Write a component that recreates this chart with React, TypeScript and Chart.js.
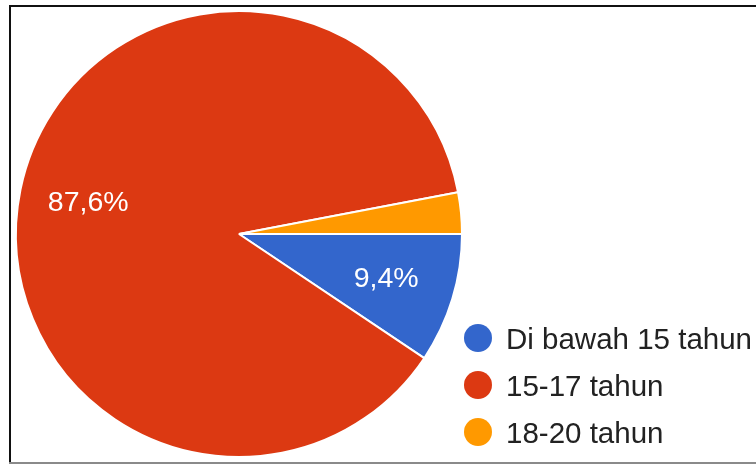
import React, { useEffect, useRef } from "react";
import { Chart, registerables } from "chart.js";

Chart.register(...registerables);

const categories = ["Di bawah 15 tahun", "15-17 tahun", "18-20 tahun"];
const values = [9.4, 87.6, 3.0];
const sliceLabels = ["9,4%", "87,6%", ""];
const colors = ["#3366cc", "#dc3912", "#ff9900"];

const FONT = "'Liberation Sans', Arial, sans-serif";

const framePlugin = {
  id: "frame",
  beforeDraw(chart: any) {
    const ctx = chart.ctx;
    ctx.save();
    ctx.fillStyle = "#ffffff";
    ctx.fillRect(0, 0, chart.width, chart.height);
    ctx.fillStyle = "#111111";
    ctx.fillRect(9, 5, chart.width - 9, 2);
    ctx.fillRect(9, 5, 2, 458);
    ctx.fillStyle = "#8a8a8a";
    ctx.fillRect(9, 462, chart.width - 9, 2);
    ctx.restore();
  },
};

const labelPlugin = {
  id: "sliceLabels",
  afterDatasetsDraw(chart: any) {
    const ctx = chart.ctx;
    const meta = chart.getDatasetMeta(0);
    ctx.save();
    ctx.fillStyle = "#ffffff";
    ctx.font = `28.5px ${FONT}`;
    ctx.textAlign = "center";
    ctx.textBaseline = "middle";
    meta.data.forEach((arc: any, i: number) => {
      const text = sliceLabels[i];
      if (!text) return;
      const p = arc.getProps(["x", "y", "startAngle", "endAngle", "outerRadius"], true);
      const mid = (p.startAngle + p.endAngle) / 2;
      const r = p.outerRadius * 0.69;
      ctx.fillText(text, p.x + Math.cos(mid) * r, p.y + Math.sin(mid) * r);
    });
    ctx.restore();
  },
};

const legendPlugin = {
  id: "customLegend",
  afterDraw(chart: any) {
    const ctx = chart.ctx;
    ctx.save();
    const baseY = 349;
    const step = 47;
    categories.forEach((c, i) => {
      const by = baseY + i * step;
      ctx.fillStyle = colors[i];
      ctx.beginPath();
      ctx.arc(478, by - 11, 14, 0, Math.PI * 2);
      ctx.fill();
      ctx.fillStyle = "#222222";
      ctx.font = `29.5px ${FONT}`;
      ctx.textAlign = "left";
      ctx.textBaseline = "alphabetic";
      ctx.fillText(c, 506, by);
    });
    ctx.restore();
  },
};

export default function App() {
  const ref = useRef<HTMLCanvasElement | null>(null);
  useEffect(() => {
    if (!ref.current) return;
    const chart = new Chart(ref.current, {
      type: "pie",
      data: {
        labels: categories,
        datasets: [
          {
            data: values,
            backgroundColor: colors,
            borderColor: "#ffffff",
            borderWidth: 2,
          },
        ],
      },
      options: {
        responsive: false,
        animation: false,
        rotation: 90,
        layout: { padding: { left: 15, top: 10, right: 293, bottom: 7 } },
        plugins: {
          legend: { display: false },
          tooltip: { enabled: false },
        },
      },
      plugins: [framePlugin, labelPlugin, legendPlugin],
    });
    return () => chart.destroy();
  }, []);
  return (
    <div style={{ position: "fixed", left: 0, top: 0, width: 756, height: 465, background: "#fff" }}>
      <canvas ref={ref} width={756} height={465} style={{ width: 756, height: 465, display: "block" }} />
    </div>
  );
}
